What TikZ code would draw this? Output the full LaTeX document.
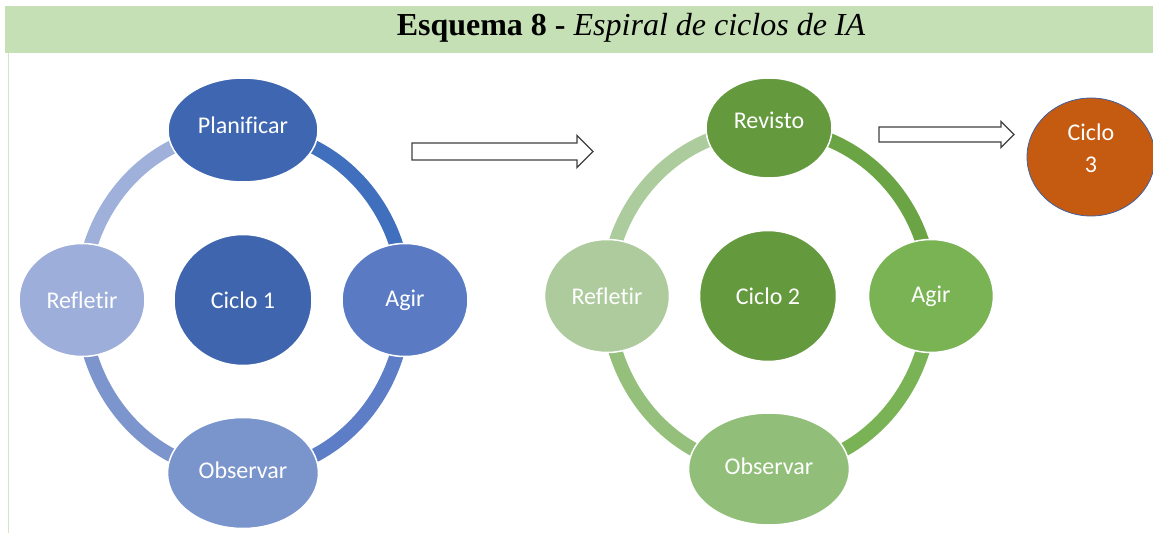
\documentclass[tikz,border=0pt]{standalone}
\usepackage{fontspec}
\setmainfont{Liberation Serif}
\newfontfamily\calibri{Carlito}[Ligatures=NoCommon]
\usepackage{xcolor}
\usepackage{tikz}
\usetikzlibrary{shapes.geometric, backgrounds, calc}

\definecolor{titlegreen}{HTML}{C5E0B4}
\definecolor{tableline}{HTML}{D3E7C6}
% blue cycle
\definecolor{bluePlan}{HTML}{3F67B1}
\definecolor{blueCenter}{HTML}{3E65AE}
\definecolor{blueAgir}{HTML}{5A7BC3}
\definecolor{blueObs}{HTML}{7A94CC}
\definecolor{blueRefl}{HTML}{9DAEDA}
\definecolor{blueArcA}{HTML}{406FBE}
\definecolor{blueArcB}{HTML}{5D7EC6}
\definecolor{blueArcC}{HTML}{7C95CD}
\definecolor{blueArcD}{HTML}{9FB0DA}
% green cycle
\definecolor{greenRev}{HTML}{64993E}
\definecolor{greenCenter}{HTML}{64993D}
\definecolor{greenAgir}{HTML}{79B354}
\definecolor{greenObs}{HTML}{91BE79}
\definecolor{greenRefl}{HTML}{AECB9D}
\definecolor{greenArcA}{HTML}{6AA444}
\definecolor{greenArcB}{HTML}{7AB356}
\definecolor{greenArcC}{HTML}{94C07C}
\definecolor{greenArcD}{HTML}{ADCC9D}
% third cycle
\definecolor{orangeCiclo}{HTML}{C55A11}
\definecolor{orangeEdge}{HTML}{41609F}

\begin{document}
\begin{tikzpicture}[x=1pt, y=1pt,
    phase/.style={ellipse, draw=white, line width=1.5pt, inner sep=0pt, text=white,
        font=\calibri\fontsize{24}{28}\selectfont},
    ring/.style={line width=14pt},
    blockarrow/.style={draw=black!75, fill=white, line width=1.3pt, line join=miter}]
    \useasboundingbox (0,0) rectangle (1153,533);

    % Title bar
    \fill[titlegreen] (5,480) rectangle (1153,527);
    \draw[tableline, line width=1pt] (8,480) -- (8,0);
    \node[anchor=base, font=\fontsize{32}{36}\selectfont] (title) at (631,497)
        {\textbf{Esquema 8 -} \textit{Espiral de ciclos de IA}};

    % Cycle 1
    \node[phase, fill=bluePlan, minimum width=150pt, minimum height=104pt, text depth=10pt] (P1) at (243,403) {Planificar};
    \node[phase, fill=blueAgir, minimum width=126pt, minimum height=113pt] (A1) at (405,233) {Agir};
    \node[phase, fill=blueObs, minimum width=151pt, minimum height=111pt, text depth=6pt] (O1) at (243,60) {Observar};
    \node[phase, fill=blueRefl, minimum width=126pt, minimum height=113pt] (R1) at (82,233) {Refletir};
    \node[phase, fill=blueCenter, minimum width=138pt, minimum height=131pt] (C1) at (243,233) {Ciclo 1};

    % Cycle 2
    \node[phase, fill=greenRev, minimum width=126pt, minimum height=100pt, text depth=16pt] (V2) at (769,405) {Revisto};
    \node[phase, fill=greenAgir, minimum width=125pt, minimum height=113pt] (A2) at (931,237) {Agir};
    \node[phase, fill=greenObs, minimum width=161pt, minimum height=112pt, text depth=6pt] (O2) at (769,64) {Observar};
    \node[phase, fill=greenRefl, minimum width=125pt, minimum height=113pt] (R2) at (607,237) {Refletir};
    \node[phase, fill=greenCenter, minimum width=137pt, minimum height=131pt] (C2) at (768,237) {Ciclo 2};

    % Cycle 3
    \node[phase, draw=orangeEdge, line width=0.8pt, fill=orangeCiclo, align=center, text depth=18pt,
        minimum width=128pt, minimum height=118pt] (C3) at (1091,376) {Ciclo\\[4pt]3};

    % Ring arcs behind the phases
    \begin{scope}[on background layer]
        \foreach \from/\to/\o/\i/\col in {P1/A1/0/90/blueArcA, A1/O1/-90/0/blueArcB,
                O1/R1/180/-90/blueArcC, R1/P1/90/180/blueArcD,
                V2/A2/0/90/greenArcA, A2/O2/-90/0/greenArcB,
                O2/R2/180/-90/greenArcC, R2/V2/90/180/greenArcD} {
            \draw[ring, \col] (\from.center) to[out=\o, in=\i] (\to.center);
        }
    \end{scope}

    % Block arrows between cycles
    \foreach \x/\y/\len/\sh/\hh/\hl in {412/381.5/165/8.5/16/16, 879/398.5/122/7.5/13/13} {
        \draw[blockarrow] (\x,\y-\sh) -- ++(\len,0) -- ++(0,\sh-\hh) -- ++(\hl,\hh)
            -- ++(-\hl,\hh) -- ++(0,\sh-\hh) -- ++(-\len,0) -- cycle;
    }

\end{tikzpicture}
\end{document}
